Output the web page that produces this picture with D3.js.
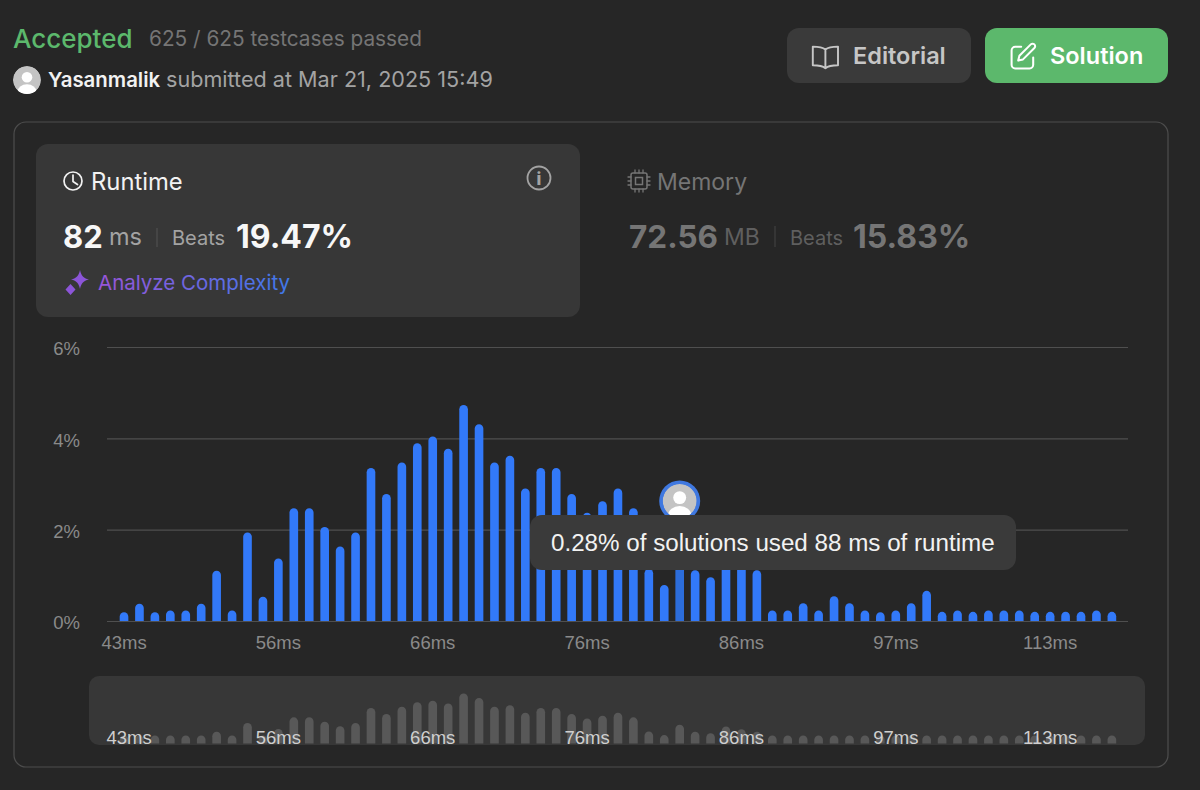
<!DOCTYPE html>
<html>
<head>
<meta charset="utf-8">
<script src="https://cdn.jsdelivr.net/npm/d3@7"></script>
<style>
  html, body { margin: 0; padding: 0; background: #262626; }
  svg { display: block; }
  text { font-family: Inter, "Noto Sans", sans-serif; }
  .plain text, text.plain { font-family: "Liberation Sans", Arial, sans-serif; }
</style>
</head>
<body>
<svg id="chart" width="1200" height="790"></svg>
<script>
// runtime in ms for each bar
var runtimes = [43, 44, 45, 46, 48, 49, 50, 52, 53, 55,
  56, 57, 58, 59, 60, 61, 62, 63, 64, 65,
  66, 67, 68, 69, 70, 71, 72, 73, 74, 75,
  76, 77, 78, 79, 80, 81, 82, 83, 84, 85,
  86, 87, 88, 89, 90, 91, 92, 93, 94, 95,
  97, 98, 99, 100, 101, 103, 104, 105, 107, 110,
  113, 115, 118, 120, 124];

// share of solutions (%) for each bar
var shares = [0.19, 0.38, 0.19, 0.23, 0.23, 0.38, 1.10, 0.23, 1.94, 0.53,
  1.37, 2.47, 2.47, 2.06, 1.63, 1.94, 3.35, 2.78, 3.47, 3.89,
  4.04, 3.77, 4.73, 4.31, 3.47, 3.62, 2.90, 3.35, 3.35, 2.78,
  2.37, 2.62, 2.90, 2.47, 1.14, 0.79, 1.78, 1.11, 0.96, 1.60,
  1.35, 1.11, 0.23, 0.23, 0.39, 0.23, 0.54, 0.39, 0.23, 0.19,
  0.23, 0.39, 0.66, 0.20, 0.23, 0.20, 0.23, 0.23, 0.23, 0.20,
  0.20, 0.20, 0.20, 0.23, 0.20];

var xTicks = [43, 56, 66, 76, 86, 97, 113];
var yTicks = [0, 2, 4, 6];
var myRuntime = 82;

var svg = d3.select("#chart");
var defs = svg.append("defs");

// Rounded box helper
function box(x, y, w, h, r, fill, stroke) {
  return svg.append("rect")
    .attr("x", x).attr("y", y).attr("width", w).attr("height", h).attr("rx", r)
    .attr("fill", fill).attr("stroke", stroke || "none");
}

// Text helper
function label(x, y, str, size, weight, color) {
  return svg.append("text")
    .attr("x", x).attr("y", y).text(str)
    .attr("font-size", size).attr("font-weight", weight).attr("fill", color);
}

// Stroke-only icon path, scaled from a 24 unit box
function icon(x, y, scale, d, color, width) {
  return svg.append("path")
    .attr("transform", "translate(" + x + "," + y + ") scale(" + scale + ")")
    .attr("d", d).attr("fill", "none").attr("stroke", color)
    .attr("stroke-width", width).attr("stroke-linecap", "round").attr("stroke-linejoin", "round");
}

// Default user avatar: grey disc, white head and shoulders
function avatar(cx, cy, r, id) {
  defs.append("clipPath").attr("id", id)
    .append("circle").attr("cx", cx).attr("cy", cy).attr("r", r);
  var g = svg.append("g").attr("clip-path", "url(#" + id + ")");
  g.append("circle").attr("cx", cx).attr("cy", cy).attr("r", r).attr("fill", "#c4c4c4");
  g.append("circle").attr("cx", cx).attr("cy", cy - r * 0.2).attr("r", r * 0.38).attr("fill", "#fff");
  g.append("ellipse").attr("cx", cx).attr("cy", cy + r * 0.85).attr("rx", r * 0.68).attr("ry", r * 0.55).attr("fill", "#fff");
}

// Header
label(13, 48, "Accepted", 26, 500, "#5cb86c");
label(149, 46, "625 / 625 testcases passed", 20.8, 400, "#757575");
avatar(27, 80, 14, "avatarSmall");
label(48, 87, "Yasanmalik", 20.4, 600, "#f2f2f2");
label(166, 87, "submitted at Mar 21, 2025 15:49", 21.6, 400, "#a3a3a3");

// Buttons
box(787, 28, 184, 55, 12, "#3a3a3a");
icon(811, 43, 1.2, "M12 5.5C10 3.8 6 3 1.5 3v15.5c4.5 0 8.500 .8 10.500 2.500c2-1.700 6-2.500 10.500-2.500V3C18 3 14 3.800 12 5.500zM12 5.500V21", "#c6c6c6", 1.6);
label(853, 64, "Editorial", 23.5, 600, "#c6c6c6");
box(985, 28, 183, 55, 12, "#5cb86c");
icon(1008, 42, 1.2, "M11 4H6a3 3 0 0 0-3 3v12a3 3 0 0 0 3 3h12a3 3 0 0 0 3-3v-6M8.500 15.500l1-4L19 2a2 2 0 0 1 3 3l-9.500 9.500z", "#fff", 1.7);
label(1050, 64, "Solution", 23.5, 600, "#fff");

// Main card
box(14, 122, 1154, 645, 12, "#262626", "#4d4d4d").attr("stroke-width", 1.2);
box(36, 144, 544, 173, 12, "#373737");

// Runtime panel
svg.append("circle").attr("cx", 73).attr("cy", 181).attr("r", 9)
  .attr("fill", "none").attr("stroke", "#f2f2f2").attr("stroke-width", 1.7);
icon(0, 0, 1, "M73 175v6.500l4.500 3", "#f2f2f2", 1.7);
label(91, 190, "Runtime", 23.8, 400, "#f2f2f2");
svg.append("circle").attr("cx", 539).attr("cy", 178).attr("r", 11.500)
  .attr("fill", "none").attr("stroke", "#a3a3a3").attr("stroke-width", 1.800);
label(539, 185, "i", 17, 800, "#a3a3a3").attr("text-anchor", "middle");

label(63, 248, "82", 31, 700, "#f7f7f7");
label(109, 245, "ms", 23.5, 400, "#a3a3a3");
svg.append("line").attr("x1", 157).attr("x2", 157).attr("y1", 228).attr("y2", 247).attr("stroke", "#555");
label(172, 245, "Beats", 20, 400, "#a3a3a3");
label(236, 248, "19.47%", 32, 700, "#f7f7f7");

// Purple to blue fade on the link text
var grad = defs.append("linearGradient").attr("id", "analyzeFade")
  .attr("gradientUnits", "userSpaceOnUse")
  .attr("x1", 98).attr("x2", 289).attr("y1", 0).attr("y2", 0);
grad.append("stop").attr("offset", "0%").attr("stop-color", "#9a55d8");
grad.append("stop").attr("offset", "100%").attr("stop-color", "#3f79ea");
svg.append("path")
  .attr("d", "M80 270c1.200 5.500 3 8 9 9.500c-6 1.500-7.800 4-9 9.500c-1.200-5.500-3-8-9-9.500c6-1.500 7.800-4 9-9.500zM70.500 284l5 5.500l-5 5.500l-5-5.500z")
  .attr("fill", "#8c55d8");
label(98, 290, "Analyze Complexity", 20.5, 400, "url(#analyzeFade)");

// Memory panel
var chip = svg.append("g").attr("fill", "none").attr("stroke", "#757575").attr("stroke-width", 1.500);
chip.append("rect").attr("x", 631).attr("y", 173).attr("width", 16).attr("height", 16).attr("rx", 2);
chip.append("rect").attr("x", 635.500).attr("y", 177.500).attr("width", 7).attr("height", 7);
icon(0, 0, 1, "M635 170v3M639 170v3M643 170v3M635 189v3M639 189v3M643 189v3M628 177h3M628 181h3M628 185h3M647 177h3M647 181h3M647 185h3", "#757575", 1.300);
label(657, 190, "Memory", 23, 400, "#757575");
label(629, 248, "72.56", 31.5, 700, "#757575");
label(724, 245, "MB", 23, 400, "#5f5f5f");
svg.append("line").attr("x1", 775).attr("x2", 775).attr("y1", 226).attr("y2", 247).attr("stroke", "#444");
label(790, 245, "Beats", 20, 400, "#5f5f5f");
label(853, 248, "15.83%", 32, 700, "#757575");

// Scales shared by chart and overview strip
var x = d3.scaleBand().domain(runtimes).range([116.300, 1119.600])
  .paddingInner(0.44).paddingOuter(0.22);
var y = d3.scaleLinear().domain([0, 6]).range([621, 347]);
var yMini = d3.scaleLinear().domain([0, 6]).range([743.500, 680]);

// Bars with rounded tops, flat bottoms. The bar never gets shorter than minPx
function barPath(d, i, scaleY, minPx) {
  var left = x(runtimes[i]);
  var w = x.bandwidth();
  var r = w / 2;
  var base = scaleY(0);
  var top = Math.min(scaleY(d), base - minPx);
  var p = d3.path();
  p.moveTo(left, base);
  p.lineTo(left, top + r);
  p.arc(left + r, top + r, r, Math.PI, 0);
  p.lineTo(left + w, base);
  p.closePath();
  return p.toString();
}

// Grid lines
var yAxis = d3.axisLeft(y).tickValues(yTicks).tickSize(0).tickPadding(27)
  .tickFormat(function(d) { return d + "%"; });
var yAxisG = svg.append("g").attr("class", "plain")
  .attr("transform", "translate(107,0)").call(yAxis);
yAxisG.select(".domain").remove();
yAxisG.selectAll("text").attr("font-size", 18.5).attr("fill", "#8a8a8a").attr("y", 2);
yAxisG.selectAll(".tick").append("line")
  .attr("x1", 0).attr("x2", 1021).attr("stroke", "#4f4f4f").attr("stroke-width", 1.200);

// Main bars
svg.append("g").selectAll("path").data(shares).join("path")
  .attr("d", function(d, i) { return barPath(d, i, y, 0); })
  .attr("fill", function(d, i) { return runtimes[i] === myRuntime ? "#2c6ddb" : "#3279f9"; });

var xAxis = d3.axisBottom(x).tickValues(xTicks).tickSize(0).tickPadding(14.5)
  .tickFormat(function(d) { return d + "ms"; });
var xAxisG = svg.append("g").attr("class", "plain")
  .attr("transform", "translate(0,621)").call(xAxis);
xAxisG.select(".domain").remove();
xAxisG.selectAll("text").attr("font-size", 18.5).attr("fill", "#8a8a8a");

// Marker for this submission
svg.append("circle").attr("cx", x(myRuntime) + x.bandwidth() / 2).attr("cy", 501).attr("r", 20.500).attr("fill", "#3f78e0");
avatar(x(myRuntime) + x.bandwidth() / 2, 501, 17, "avatarMark");

// Tooltip
box(530, 515, 486, 55, 12, "#3a3a3a");
label(551, 551, "0.28% of solutions used 88 ms of runtime", 24.2, 400, "#f2f2f2").attr("class", "plain");

// Overview strip
box(89, 676, 1056, 69, 10, "#373737");
svg.append("g").selectAll("path").data(shares).join("path")
  .attr("d", function(d, i) { return barPath(d, i, yMini, 8); })
  .attr("fill", "#585858");

var miniAxis = d3.axisBottom(x).tickValues(xTicks).tickSize(0).tickPadding(0)
  .tickFormat(function(d) { return d + "ms"; });
var miniAxisG = svg.append("g").attr("class", "plain")
  .attr("transform", "translate(0,730.500)").call(miniAxis);
miniAxisG.select(".domain").remove();
miniAxisG.selectAll("text").attr("font-size", 18.5).attr("fill", "#cfcfcf")
  .attr("dx", function(d) { return d === xTicks[0] ? 5 : 0; });
</script>
</body>
</html>
